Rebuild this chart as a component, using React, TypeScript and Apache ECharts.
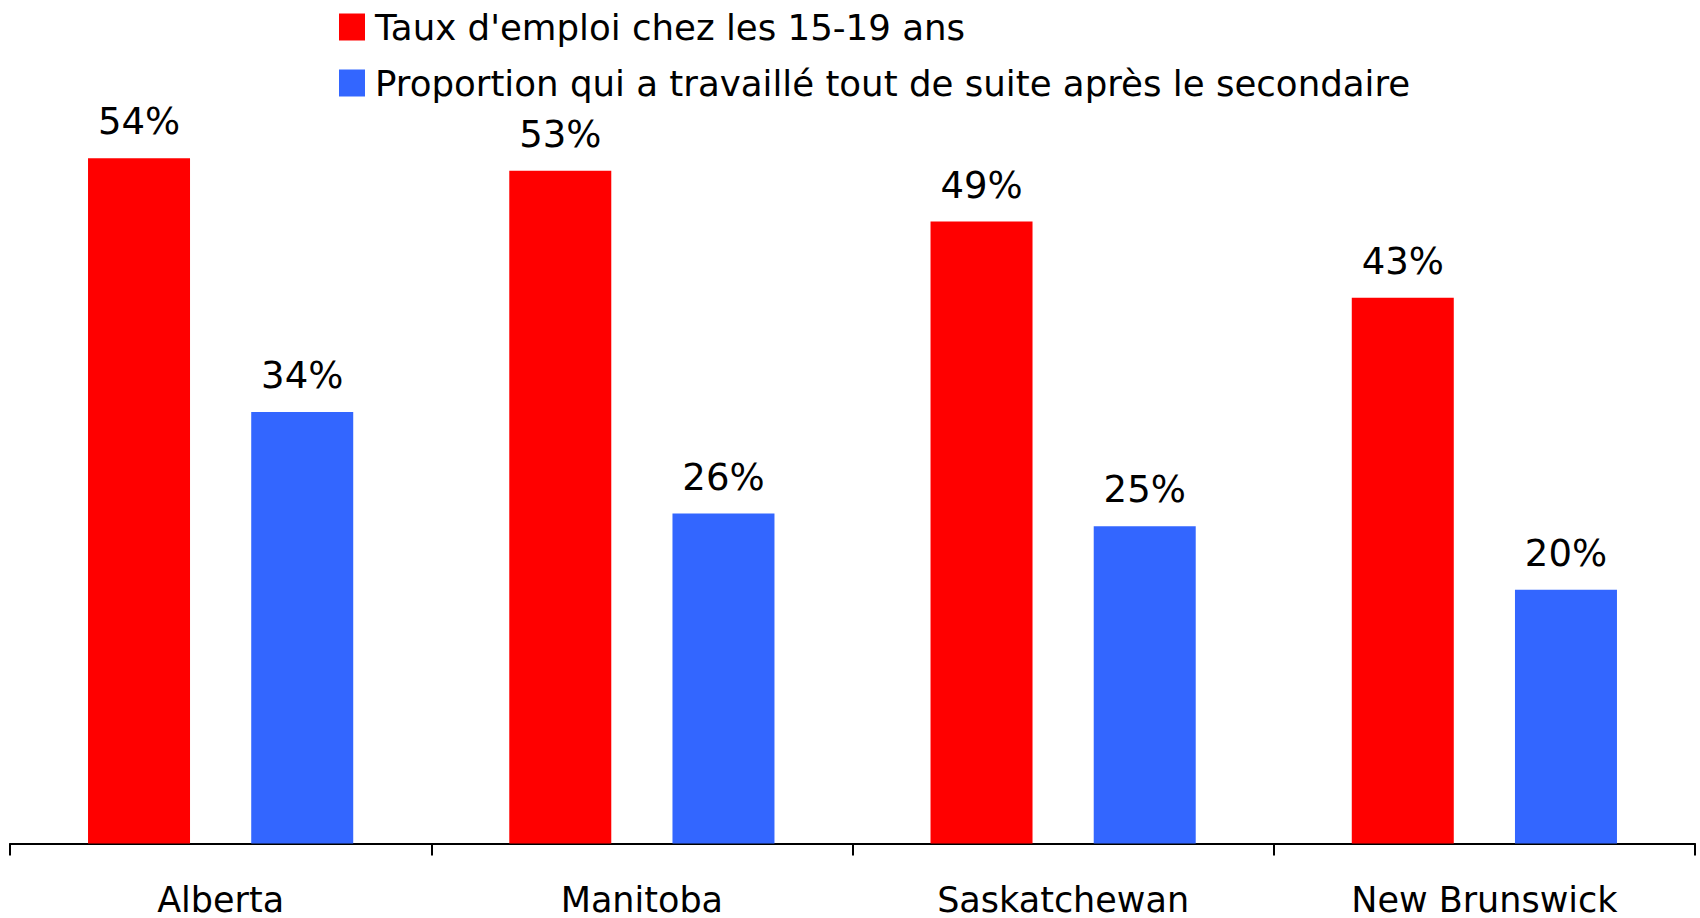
import React, { useEffect, useRef } from "react";
import * as echarts from "echarts";

const provinces = ["Alberta", "Manitoba", "Saskatchewan", "New Brunswick"];
const seriesNames = [
  "Taux d'emploi chez les 15-19 ans",
  "Proportion qui a travaillé tout de suite après le secondaire",
];
const employmentRate = [54, 53, 49, 43];
const workedAfterHighSchool = [34, 26, 25, 20];

const FONT = "DejaVu Sans";

export default function App() {
  const ref = useRef<HTMLDivElement>(null);
  useEffect(() => {
    document.body.style.margin = "0";
    const chart = echarts.init(ref.current!, null, { renderer: "svg" });
    const label = {
      show: true,
      position: "top",
      distance: 18,
      formatter: "{c}%",
      color: "#000",
      fontFamily: FONT,
      fontSize: 37,
    };
    chart.setOption({
      animation: false,
      backgroundColor: "#fff",
      textStyle: { fontFamily: FONT },
      legend: {
        orient: "vertical",
        left: 334,
        top: 4,
        itemWidth: 26,
        itemHeight: 27,
        itemGap: 20,
        icon: "rect",
        textStyle: { fontFamily: FONT, fontSize: 35.6, color: "#000", padding: [0, 0, 0, 5] },
        data: seriesNames,
      },
      grid: { left: 10, right: 5, top: 82, bottom: 74.5, containLabel: false },
      xAxis: {
        type: "category",
        data: provinces,
        axisLine: { lineStyle: { color: "#000", width: 2 } },
        axisTick: { show: true, length: 12, lineStyle: { color: "#000", width: 2 } },
        axisLabel: { color: "#000", fontFamily: FONT, fontSize: 35, lineHeight: 34, margin: 39 },
      },
      yAxis: {
        type: "value",
        min: 0,
        max: 60,
        show: false,
        splitLine: { show: false },
      },
      series: [
        {
          name: seriesNames[0],
          type: "bar",
          data: employmentRate,
          barWidth: 102,
          barGap: "60%",
          itemStyle: { color: "#FF0000" },
          label,
        },
        {
          name: seriesNames[1],
          type: "bar",
          data: workedAfterHighSchool,
          barWidth: 102,
          barGap: "60%",
          itemStyle: { color: "#3366FF" },
          label,
        },
      ],
    });
    return () => chart.dispose();
  }, []);
  return (
    <div
      ref={ref}
      style={{ position: "absolute", left: 0, top: 0, width: 1700, height: 918 }}
    />
  );
}
